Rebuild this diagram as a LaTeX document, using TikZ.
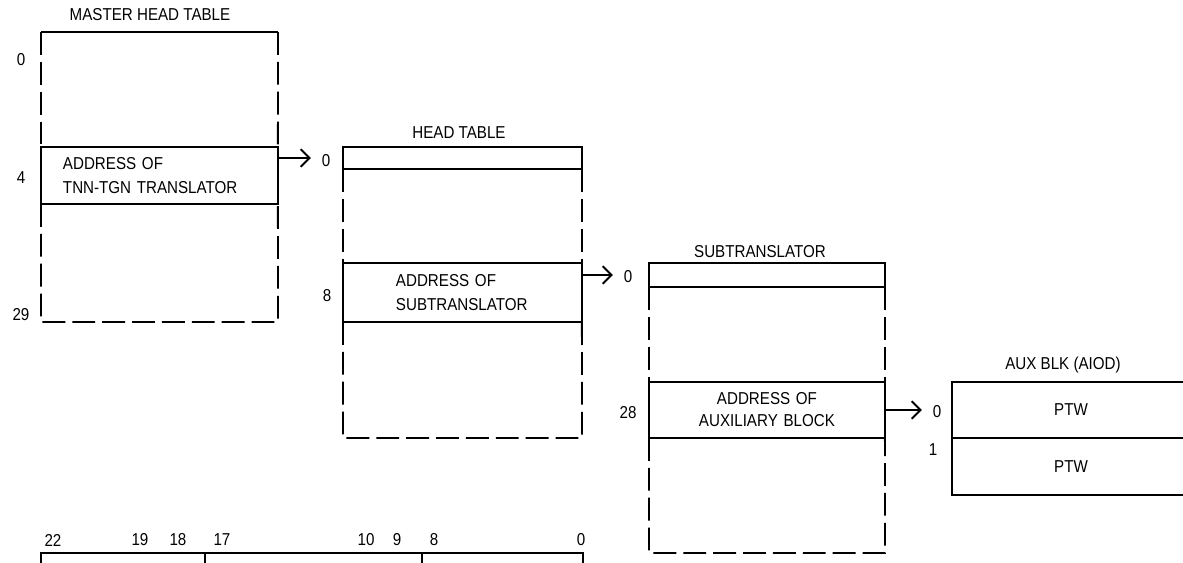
\documentclass[tikz,border=0pt]{standalone}
\usepackage{fontspec}
\setmainfont{Liberation Sans}[FakeStretch=0.88]
\usetikzlibrary{arrows.meta,positioning}

\begin{document}
\begin{tikzpicture}[
    x=0.02cm,y=-0.02cm,
    lbl/.style={font=\fontsize{9.8}{11}\selectfont,inner sep=0pt},
    cell/.style={draw,line width=1.1pt,anchor=north west,inner sep=0pt,outer sep=0pt,
                 font=\fontsize{9.8}{14}\selectfont},
    side/.style={line width=1.1pt,dash pattern=on 13pt off 4pt},
    rule/.style={line width=1.1pt},
    ar/.style={-{Straight Barb[length=5pt,width=10pt]},line width=1.1pt}
  ]
  \useasboundingbox (0,0) rectangle (1183,562);
  \clip (0,0) rectangle (1183,562);

  % Master head table
  \node(mt)[lbl] at (150,15) {MASTER HEAD TABLE};
  \node(mb)[cell,minimum width=4.74cm,minimum height=1.14cm,text width=3.86cm,align=left]
    at (41,147) {ADDRESS OF\\TNN-TGN TRANSLATOR};
  \draw[rule] (41,32) -- (278,32);
  \draw[side] (41,32) -- (mb.north west);
  \draw[side] (278,32) -- (mb.north east);
  \draw[side] (mb.south west) -- (41,322) -- (278,322) -- (mb.south east);
  \node(m0)[lbl] at (21,60) {0};
  \node(m4)[lbl] at (21,178) {4};
  \node(m29)[lbl] at (21,315) {29};

  % Head table
  \node(htt)[lbl] at (459,133) {HEAD TABLE};
  \node(ht)[cell,minimum width=4.78cm,minimum height=0.44cm] at (343,147) {};
  \node(hb)[cell,minimum width=4.78cm,minimum height=1.18cm,text width=2.66cm,
    align=left,font=\fontsize{9.8}{13.7}\selectfont] at (343,263) {ADDRESS OF\\SUBTRANSLATOR};
  \draw[side] (ht.south west) -- (hb.north west);
  \draw[side] (ht.south east) -- (hb.north east);
  \draw[side] (hb.south west) -- (343,438) -- (582,438) -- (hb.south east);
  \node(h0)[lbl] at (326,161) {0};
  \node(h8)[lbl] at (327,296) {8};

  % Subtranslator
  \node(stt)[lbl] at (760,252) {SUBTRANSLATOR};
  \node(st)[cell,minimum width=4.72cm,minimum height=0.48cm] at (649,263) {};
  \node(sb)[cell,minimum width=4.72cm,minimum height=1.12cm,text width=4cm,
    align=center,font=\fontsize{9.8}{12.5}\selectfont] at (649,382) {ADDRESS OF\\AUXILIARY BLOCK};
  \draw[side] (st.south west) -- (sb.north west);
  \draw[side] (st.south east) -- (sb.north east);
  \draw[side] (sb.south west) -- (649,553) -- (885,553) -- (sb.south east);
  \node(s0)[lbl] at (628,277) {0};
  \node(s28)[lbl] at (628,413) {28};

  % Auxiliary block
  \node(at)[lbl] at (1063,365) {AUX BLK (AIOD)};
  \node(a1)[cell,minimum width=4.76cm,minimum height=1.12cm] at (952,382) {PTW};
  \node(a2)[cell,minimum width=4.76cm,minimum height=1.14cm] at (952,438) {PTW};
  \node(x0)[lbl] at (937,412) {0};
  \node(x1)[lbl] at (933,450) {1};

  % Pointer arrows
  \draw[ar] (mb.east |- ht.center) -- ([xshift=-6pt]h0.west |- ht.center);
  \draw[ar] (hb.east |- st.center) -- ([xshift=-6pt]s0.west |- st.center);
  \draw[ar] (sb.east |- a1.center) -- ([xshift=-6pt]x0.west |- a1.center);

  % Word layout (bits 22..0)
  \node(f1)[cell,minimum width=3.28cm,minimum height=1cm] at (41,553) {};
  \node(f2)[cell,minimum width=4.34cm,minimum height=1cm] at (205,553) {};
  \node(f3)[cell,minimum width=3.22cm,minimum height=1cm] at (422,553) {};
  \node(b22)[lbl] at (53,540) {22};
  \node(b19)[lbl] at (140,540) {19};
  \node(b18)[lbl] at (178,540) {18};
  \node(b17)[lbl] at (222,540) {17};
  \node(b10)[lbl] at (366,540) {10};
  \node(b9)[lbl] at (397,540) {9};
  \node(b8)[lbl] at (434,540) {8};
  \node(b0)[lbl] at (581,540) {0};
\end{tikzpicture}
\end{document}
